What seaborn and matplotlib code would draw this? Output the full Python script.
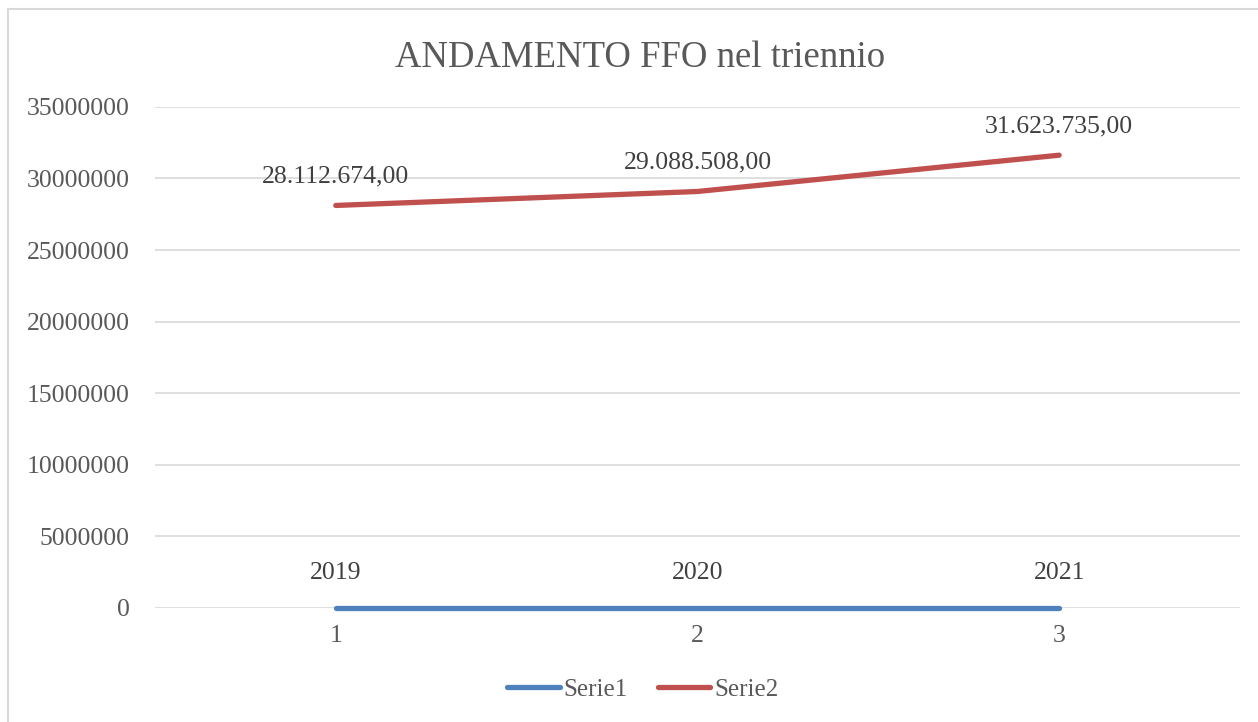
import pandas as pd
import seaborn as sns
import matplotlib.pyplot as plt
from matplotlib.patches import Rectangle

# data
x_pos = [1, 2, 3]
serie1 = [2019, 2020, 2021]
serie2 = [28112674.00, 29088508.00, 31623735.00]
series_names = ['Serie1', 'Serie2']
colors = ['#4F81BD', '#C0504D']


def it_fmt(v):
    # Italian style: 28.112.674,00
    s = f"{v:,.2f}"
    return s.replace(',', 'X').replace('.', ',').replace('X', '.')


df = pd.DataFrame({
    'x': x_pos + x_pos,
    'value': serie1 + serie2,
    'serie': [series_names[0]] * 3 + [series_names[1]] * 3,
})

sns.set_style('white')
plt.rcParams['font.family'] = ['Liberation Serif', 'DejaVu Serif']
txt = '#595959'

fig = plt.figure(figsize=(12.58, 7.22), dpi=100)
ax = fig.add_axes([0.1232, 0.158, 0.8625, 0.694])

sns.lineplot(data=df, x='x', y='value', hue='serie', palette=colors,
             linewidth=3.8, ax=ax, legend=True, solid_capstyle='round',
             clip_on=False, zorder=3)

ax.set_xlim(0.5, 3.5)
ax.set_ylim(0, 35000000)
ax.set_xticks(x_pos)
ax.set_yticks(range(0, 35000001, 5000000))
ax.set_yticklabels([str(v) for v in range(0, 35000001, 5000000)])
ax.tick_params(axis='both', length=0, labelsize=18.5, colors=txt, pad=18)
ax.tick_params(axis='x', pad=12)
ax.grid(axis='y', color='#D9D9D9', linewidth=1.2)
ax.set_axisbelow(True)
for s in ax.spines.values():
    s.set_visible(False)
ax.set_xlabel('')
ax.set_ylabel('')

# data labels
for xi, v in zip(x_pos, serie1):
    ax.annotate(str(v), (xi, v), xytext=(0, 17), textcoords='offset points',
                ha='center', va='bottom', fontsize=18.5, color='#404040')
for xi, v in zip(x_pos, serie2):
    ax.annotate(it_fmt(v), (xi, v), xytext=(0, 13), textcoords='offset points',
                ha='center', va='bottom', fontsize=18.5, color='#404040')

fig.text(0.509, 0.92, 'ANDAMENTO FFO nel triennio', ha='center', va='center',
         fontsize=26.5, color=txt)

ax.legend(loc='center', bbox_to_anchor=(0.511, 0.045),
          bbox_transform=fig.transFigure, ncol=2, frameon=False, fontsize=18,
          handlelength=2.1, handletextpad=0.15, columnspacing=1.2,
          labelcolor=txt)

# chart frame
fig.add_artist(Rectangle((8 / 1258, -0.05), 1.1, 1 - 9 / 722 + 0.05,
                         transform=fig.transFigure, fill=False,
                         edgecolor='#D9D9D9', linewidth=1.5))

fig.savefig('out.png', dpi=100)
